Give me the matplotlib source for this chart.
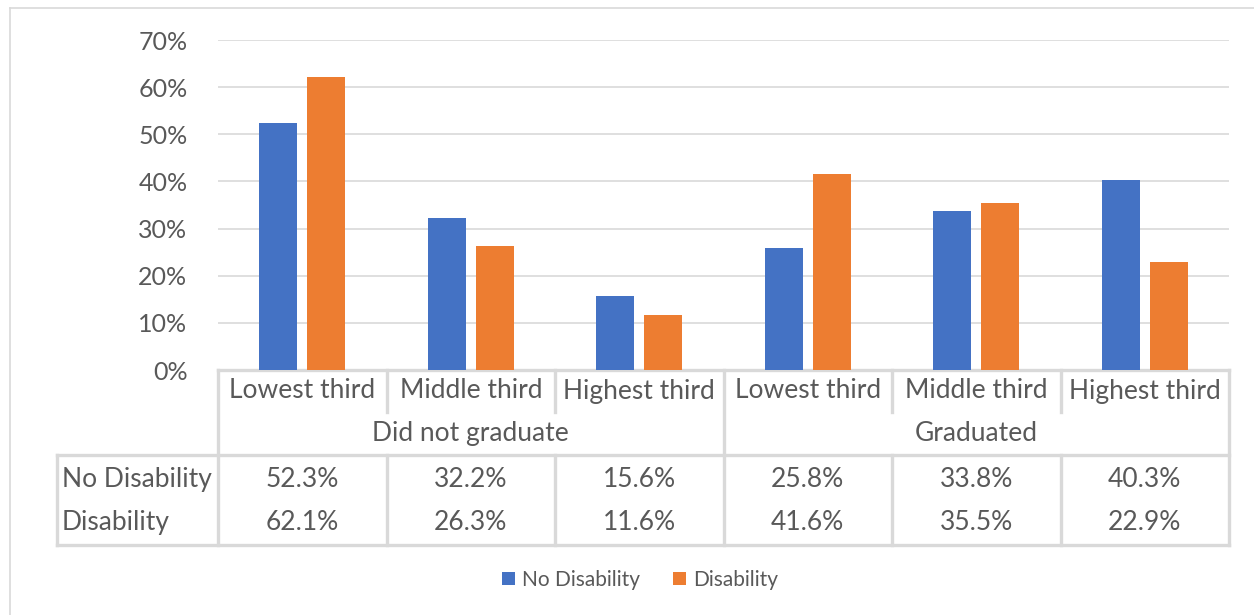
import matplotlib.pyplot as plt
import numpy as np

# values shown in the data table under the chart
groups = ["Did not graduate", "Graduated"]
thirds = ["Lowest third", "Middle third", "Highest third"]
series = ["No Disability", "Disability"]
no_disability = [52.3, 32.2, 15.6, 25.8, 33.8, 40.3]
disability = [62.1, 26.3, 11.6, 41.6, 35.5, 22.9]
yticks = [0, 10, 20, 30, 40, 50, 60, 70]

BLUE = "#4472C4"
ORANGE = "#ED7D31"
TEXT = "#595959"
GRID = "#D9D9D9"

W, H = 1254, 615
plt.rcParams["font.family"] = ["Lato", "DejaVu Sans"]

fig = plt.figure(figsize=(W / 100, H / 100), dpi=100)

# pixel-space overlay for the frame and the data table
bg = fig.add_axes([0, 0, 1, 1], zorder=0)
bg.set_xlim(0, W)
bg.set_ylim(H, 0)
bg.axis("off")

left, right, top, base = 218, 1229, 40, 370
ax = fig.add_axes([left / W, 1 - base / H, (right - left) / W, (base - top) / H], zorder=1)
ax.patch.set_alpha(0)

n = len(no_disability)
x = np.arange(n)
bw = 0.225
gap = 0.06
ax.bar(x - (bw + gap) / 2, no_disability, bw, color=BLUE, label=series[0], zorder=3)
ax.bar(x + (bw + gap) / 2, disability, bw, color=ORANGE, label=series[1], zorder=3)

ax.set_xlim(-0.5, n - 0.5)
ax.set_ylim(0, 70)
ax.set_yticks(yticks)
ax.set_yticklabels([f"{v}%" for v in yticks])
ax.set_xticks([])
ax.tick_params(axis="y", length=0, pad=22, labelsize=18, labelcolor=TEXT)
ax.grid(axis="y", color=GRID, linewidth=1.2, zorder=0)
for s in ax.spines.values():
    s.set_visible(False)

# outer chart frame
lc = dict(color=GRID, linewidth=1.2)
bg.plot([10, 10], [8, H], **lc)
bg.plot([10, W], [8, 8], **lc)

# table geometry
col = (right - left) / n
edges = [left + i * col for i in range(n + 1)]
r_cat, r_grp, r_dat, r_mid, r_bot = 370, 412, 455, 500, 545
tl = dict(color=GRID, linewidth=2.4, solid_capstyle="projecting")

bg.plot([left, right], [r_cat, r_cat], **tl)
bg.plot([57, right], [r_dat, r_dat], **tl)
bg.plot([57, right], [r_bot, r_bot], **tl)
bg.plot([57, 57], [r_dat, r_bot], **tl)
for i, ex in enumerate(edges):
    if i % 3 == 0:
        bg.plot([ex, ex], [r_cat, r_bot], **tl)
    else:
        bg.plot([ex, ex], [r_cat, r_grp], **tl)
        bg.plot([ex, ex], [r_dat, r_bot], **tl)

fs = 19
for i in range(n):
    cx = left + (i + 0.5) * col
    bg.text(cx, (r_cat + r_grp) / 2, thirds[i % 3], ha="center", va="center",
            fontsize=fs, color=TEXT)
    bg.text(cx, (r_dat + r_mid) / 2 + 2, f"{no_disability[i]:.1f}%", ha="center",
            va="center", fontsize=fs, color=TEXT)
    bg.text(cx, (r_mid + r_bot) / 2, f"{disability[i]:.1f}%", ha="center",
            va="center", fontsize=fs, color=TEXT)
for g, name in enumerate(groups):
    cx = left + (g * 3 + 1.5) * col
    bg.text(cx, (r_grp + r_dat) / 2, name, ha="center", va="center",
            fontsize=fs, color=TEXT)
bg.text(62, (r_dat + r_mid) / 2 + 2, series[0], ha="left", va="center",
        fontsize=fs, color=TEXT)
bg.text(62, (r_mid + r_bot) / 2, series[1], ha="left", va="center",
        fontsize=fs, color=TEXT)

fig.legend(loc="center", bbox_to_anchor=(640 / W, 1 - 580 / H), ncol=2,
           frameon=False, fontsize=15, labelcolor=TEXT, handlelength=0.6,
           handleheight=0.6, handletextpad=0.35, columnspacing=1.6)

fig.savefig("out.png", dpi=100)
